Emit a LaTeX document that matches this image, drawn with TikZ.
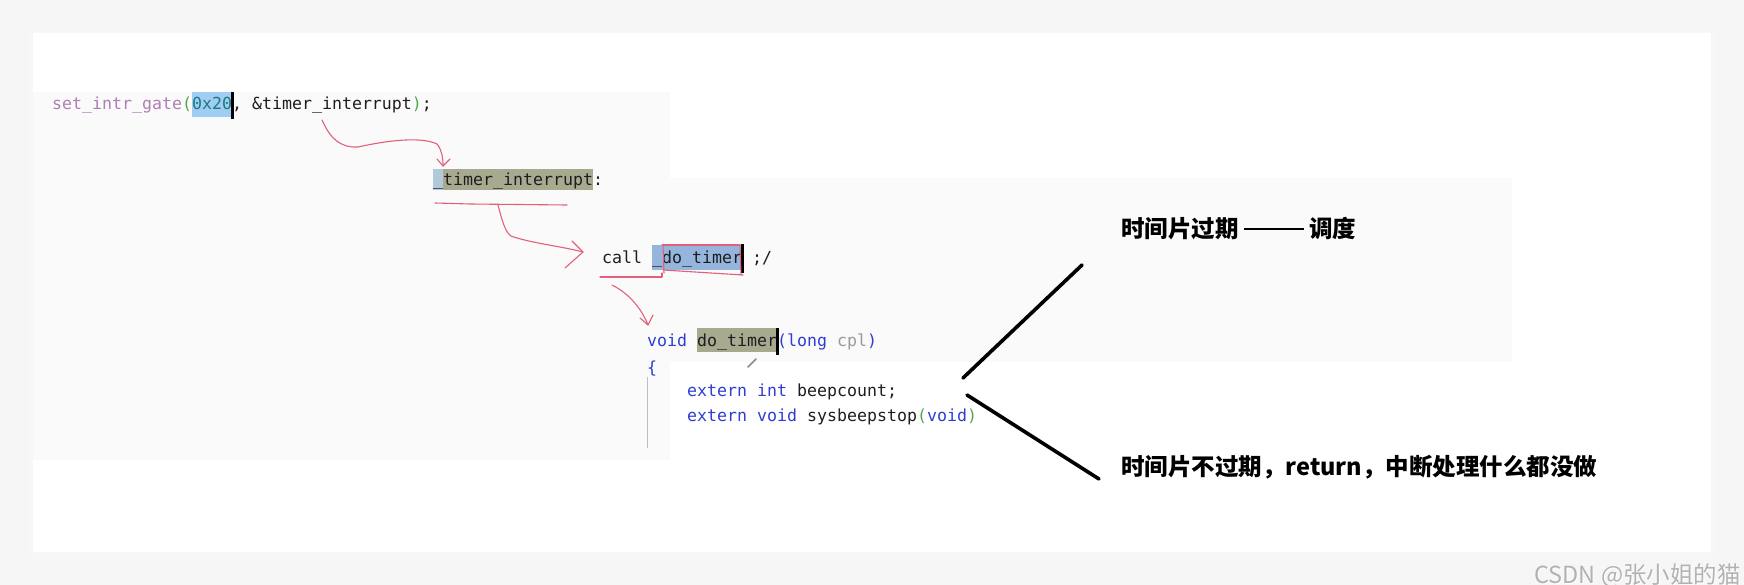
\documentclass[tikz,border=0pt]{standalone}
\usepackage{fontspec}
\setmonofont{DejaVu Sans Mono}
\newfontfamily\cjk{Noto Sans CJK SC}
\definecolor{fnpurple}{HTML}{B07EB4}
\definecolor{pgreen}{HTML}{52A852}
\definecolor{numteal}{HTML}{1C7A7C}
\definecolor{hlblue}{HTML}{9FCDF3}
\definecolor{hlblueb}{HTML}{95B5DC}
\definecolor{hlolive}{HTML}{A8AA90}
\definecolor{kwblue}{HTML}{2F3DD3}
\definecolor{cplgray}{HTML}{9A9A9A}
\definecolor{codeink}{HTML}{1E1E1E}
\definecolor{penred}{HTML}{E2607A}
\definecolor{pagebg}{HTML}{F6F6F6}
\definecolor{panelbg}{HTML}{FAFAFA}
\tikzset{
  code/.style={anchor=base west, inner sep=0pt, font=\ttfamily\fontsize{16.6}{20}\selectfont, text=codeink},
  note/.style={anchor=base west, inner sep=0pt, font=\cjk\bfseries\fontsize{23.5}{28}\selectfont, text=black},
  pen/.style={draw=penred, line width=1.1pt, line cap=round, line join=round},
  stroke/.style={draw=black, line width=3.6pt, line cap=round},
  cursor/.style={fill=black, draw=none}
}
\begin{document}
\begin{tikzpicture}[x=1pt,y=-1pt]
\useasboundingbox (0,0) rectangle (1744,585);
% page and card
\fill[pagebg] (0,0) rectangle (1744,585);
\fill[black!5] (31,33) rectangle (1713,556);
\fill[black!3] (29,31) rectangle (1715,558);
\fill[white] (33,33) rectangle (1711,552);
% screenshot panels
\fill[panelbg] (33,92) rectangle (670,460);
\fill[panelbg] (430,178) rectangle (1512,362);
% highlights
\fill[hlblue] (192,92) rectangle (232,117);
\fill[hlolive] (433,169) rectangle (593,190);
\fill[hlblue!80!black!60] (433,169) rectangle (443,190);
\fill[hlblueb] (652,245) rectangle (742,270);
\fill[hlolive] (697,328) rectangle (777,352);
% cursors
\fill[cursor] (231,92) rectangle (233.5,119);
\fill[cursor] (741,244) rectangle (743.5,273);
\fill[cursor] (776,328) rectangle (778.5,355);
% code text
\node[code] (l1) at (52,110) {{\color{fnpurple}set\_intr\_gate}{\color{pgreen}(}{\color{numteal}0x20}, \&timer\_interrupt{\color{pgreen})};};
\node[code] (l2) at (433,186) {\_timer\_interrupt:};
\node[code] (l3) at (602,263) {call \_do\_timer ;/};
\node[code] (l4) at (647,346) {{\color{kwblue}void} do\_timer{\color{kwblue}(long} {\color{cplgray}cpl}{\color{kwblue})}};
\node[code] (l5) at (647,373) {\color{kwblue}\{};
\node[code] (l6) at (687,396) {{\color{kwblue}extern int} beepcount;};
\node[code] (l7) at (687,421) {{\color{kwblue}extern void} sysbeepstop{\color{pgreen}(}{\color{kwblue}void}{\color{pgreen})}};
% indent guide
\draw[black!25, line width=0.8pt] (647,377) -- (647,448);
% pencil mark
\draw[black!45, line width=1.6pt, line cap=round] (748,367) -- (756,359);
% red pen strokes
\coordinate (a1s) at (322,120);
\coordinate (a1e) at (443,166);
\draw[pen] (a1s) .. controls (330,138) and (340,148) .. (358,147)
  .. controls (385,141) and (420,136) .. (437,144) .. controls (442,150) and (443,158) .. (a1e);
\draw[pen] (437,159) -- (a1e) -- (450,159);
\draw[pen] (435,203) -- (470,204) -- (567,205);
\coordinate (a2s) at (498,205);
\coordinate (a2e) at (583,252);
\draw[pen] (a2s) .. controls (502,220) and (505,232) .. (511,236)
  .. controls (530,243) and (560,246) .. (a2e);
\draw[pen] (572,241) -- (a2e) -- (565,268);
\draw[pen] (662,245) -- (740,245);
\draw[pen] (663,245) -- (664,273);
\draw[pen] (740,245) -- (741,275);
\draw[pen] (663,270) -- (743,275);
\draw[pen] (600,277) -- (662,277) -- (662,273);
\coordinate (a3s) at (612,285);
\coordinate (a3e) at (648,325);
\draw[pen] (a3s) .. controls (626,292) and (640,305) .. (a3e);
\draw[pen] (640,318) -- (a3e) -- (653,315);
% notes
\node[note] (n1) at (1121,237) {时间片过期 \rule[7pt]{60pt}{2.2pt} 调度};
\node[note] (n2) at (1121,475) {时间片不过期，return，中断处理什么都没做};
\coordinate (s1a) at (963,378);
\coordinate (s1b) at (1082,265);
\coordinate (s2a) at (967,395);
\coordinate (s2b) at (1099,479);
\draw[stroke] (s1a) -- (s1b);
\draw[stroke] (s2a) -- (s2b);
% watermark
\node[anchor=base east, inner sep=0pt, font=\cjk\fontsize{23.5}{28}\selectfont, text=white] (wm2) at (1742,584) {CSDN @张小姐的猫};
\node[anchor=base east, inner sep=0pt, font=\cjk\fontsize{23.5}{28}\selectfont, text=black!30] (wm) at (1741,583) {CSDN @张小姐的猫};
\end{tikzpicture}
\end{document}
